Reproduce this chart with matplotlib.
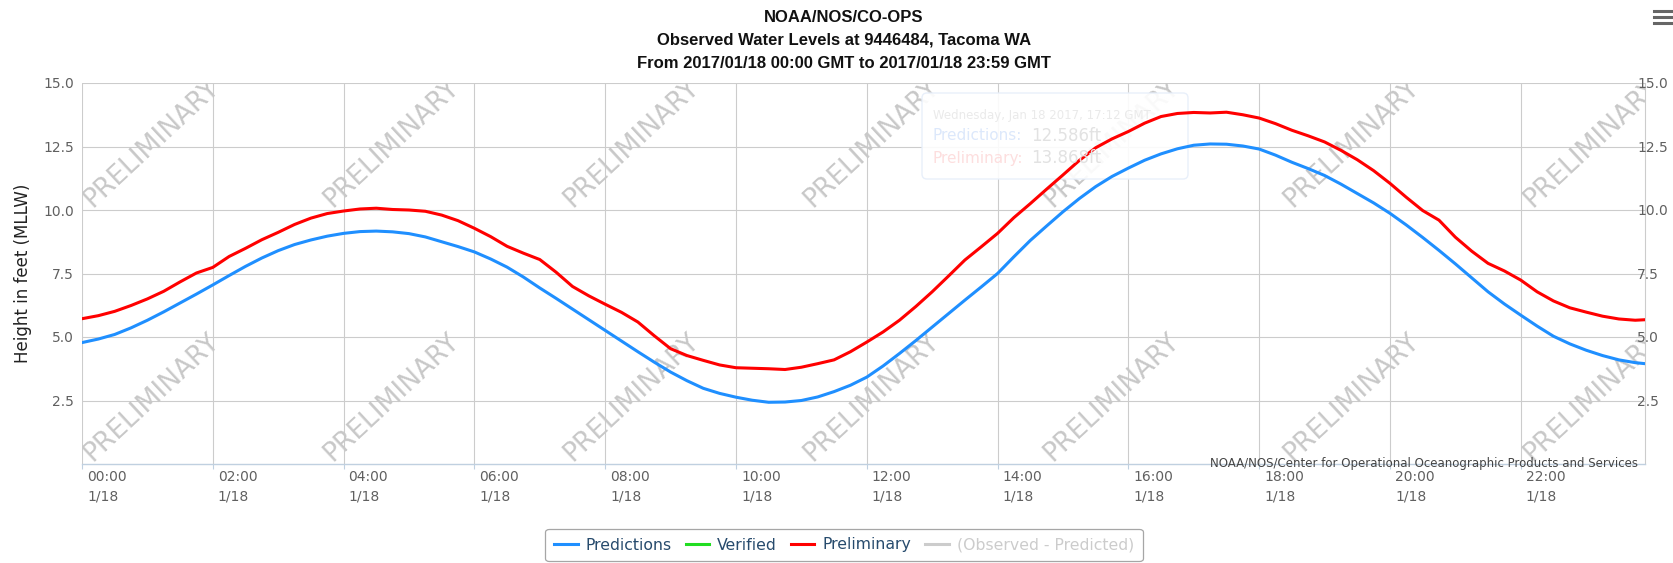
import numpy as np
import matplotlib.pyplot as plt
from matplotlib.lines import Line2D
from matplotlib.patches import FancyBboxPatch
from matplotlib.transforms import ScaledTranslation, IdentityTransform

# water levels read every quarter hour (last sample 23:54)
hours = list(np.arange(0, 24, 0.25)) + [23.9]
predictions = [4.78, 4.92, 5.10, 5.36, 5.66, 5.99, 6.34, 6.69, 7.05, 7.42,
               7.78, 8.11, 8.40, 8.64, 8.82, 8.97, 9.08, 9.15, 9.17, 9.14,
               9.07, 8.94, 8.75, 8.56, 8.35, 8.07, 7.75, 7.36, 6.93, 6.52,
               6.10, 5.68, 5.26, 4.84, 4.42, 4.01, 3.62, 3.28, 2.98, 2.78,
               2.63, 2.51, 2.43, 2.44, 2.50, 2.64, 2.85, 3.10, 3.42, 3.86,
               4.35, 4.86, 5.39, 5.92, 6.45, 6.97, 7.50, 8.16, 8.80, 9.37,
               9.93, 10.45, 10.92, 11.32, 11.65, 11.96, 12.21, 12.41, 12.55, 12.60,
               12.59, 12.52, 12.40, 12.16, 11.88, 11.63, 11.36, 11.02, 10.65, 10.28,
               9.87, 9.41, 8.92, 8.41, 7.88, 7.33, 6.78, 6.30, 5.86, 5.43,
               5.03, 4.73, 4.48, 4.27, 4.10, 3.99, 3.95]
preliminary = [5.72, 5.84, 6.01, 6.24, 6.50, 6.80, 7.17, 7.52, 7.74, 8.17,
               8.49, 8.83, 9.12, 9.43, 9.68, 9.86, 9.96, 10.04, 10.07, 10.02,
               10.00, 9.95, 9.80, 9.58, 9.28, 8.95, 8.57, 8.30, 8.05, 7.55,
               6.99, 6.62, 6.29, 5.97, 5.59, 5.05, 4.54, 4.27, 4.08, 3.90,
               3.79, 3.77, 3.75, 3.72, 3.81, 3.95, 4.10, 4.42, 4.80, 5.20,
               5.66, 6.20, 6.78, 7.40, 8.03, 8.55, 9.08, 9.70, 10.25, 10.82,
               11.38, 11.95, 12.45, 12.80, 13.09, 13.42, 13.68, 13.80, 13.84, 13.82,
               13.85, 13.75, 13.62, 13.40, 13.14, 12.92, 12.68, 12.35, 11.98, 11.55,
               11.05, 10.50, 9.98, 9.60, 8.93, 8.38, 7.90, 7.60, 7.24, 6.78,
               6.42, 6.15, 5.98, 5.82, 5.71, 5.66, 5.68]

tick_hours = [0, 2, 4, 6, 8, 10, 12, 14, 16, 18, 20, 22]
tick_labels = [f"{h:02d}:00\n1/18" for h in tick_hours]
y_ticks = [2.5, 5.0, 7.5, 10.0, 12.5, 15.0]

titles = ["NOAA/NOS/CO-OPS",
          "Observed Water Levels at 9446484, Tacoma WA",
          "From 2017/01/18 00:00 GMT to 2017/01/18 23:59 GMT"]

BLUE = '#1f8fff'
RED = '#ff0000'
GREEN = '#22dd22'
GRID = '#cccccc'
TICKC = '#606060'

W, H = 1673, 563
fig = plt.figure(figsize=(W / 100, H / 100), dpi=100)
ax = fig.add_axes([82 / W, 1 - 464 / H, (1645 - 82) / W, (464 - 83) / H])

ax.plot(hours, predictions, color=BLUE, lw=2.2, zorder=4, solid_capstyle='round')
ax.plot(hours, preliminary, color=RED, lw=2.2, zorder=5, solid_capstyle='round')

ax.set_xlim(0, 23.9)
ax.set_ylim(0, 15)
ax.set_yticks(y_ticks, [f"{v:.1f}" for v in y_ticks])
ax.set_xticks(tick_hours, tick_labels)
ax.grid(True, color=GRID, lw=0.8, zorder=0)
ax.set_axisbelow(True)

for s in ['top', 'left']:
    ax.spines[s].set_visible(False)
ax.spines['right'].set_color(GRID)
ax.spines['right'].set_linewidth(0.8)
ax.spines['bottom'].set_color('#c0d0e0')
ax.spines['bottom'].set_linewidth(1.0)

ax.tick_params(axis='y', length=0, pad=5.8, labelsize=10, labelcolor=TICKC)
ax.tick_params(axis='x', length=3.6, width=0.8, color='#c0d0e0', pad=1,
               labelsize=10, labelcolor=TICKC)
offset = ScaledTranslation(5 / 100, 0, fig.dpi_scale_trans)
for lab in ax.get_xticklabels():
    lab.set_ha('left')
    lab.set_linespacing(1.45)
    lab.set_transform(lab.get_transform() + offset)

ax2 = ax.twinx()
ax2.set_ylim(0, 15)
ax2.set_yticks(y_ticks, [f"{v:.1f}" for v in y_ticks])
ax2.tick_params(axis='y', length=0, pad=-5.8, labelsize=10, labelcolor=TICKC)
for s in ax2.spines.values():
    s.set_visible(False)

ax.set_ylabel("Height in feet (MLLW)", fontsize=12, color='#222222')
ax.yaxis.set_label_coords((32 - 82) / 1563, 0.5)

# PRELIMINARY watermark grid
for cx in [152, 392, 632, 872, 1112, 1352, 1592]:
    for cy in [143, 397]:
        ax.text((cx - 82) / 1563, (464 - cy) / 381, "PRELIMINARY",
                transform=ax.transAxes, rotation=43, fontsize=19,
                color='#c8c8c8', ha='center', va='center',
                rotation_mode='anchor', clip_on=True, zorder=2)

# faded tooltip
px = IdentityTransform()
tip = FancyBboxPatch((922, H - 179), 266, 86,
                     boxstyle="round,pad=0,rounding_size=5",
                     transform=px, facecolor='white', alpha=0.9,
                     edgecolor='#e6eefa', lw=1, zorder=3)
ax.add_artist(tip)
tip.set_clip_on(False)
fig.text(933, H - 115, "Wednesday, Jan 18 2017, 17:12 GMT", transform=px,
         fontsize=8.5, color='#eaeaea', va='center')
fig.text(933, H - 136, "Predictions:", transform=px, fontsize=11,
         color='#dce8fb', va='center')
fig.text(1031, H - 136, "12.586ft", transform=px, fontsize=12,
         color='#e2e2e2', va='center')
fig.text(933, H - 158, "Preliminary:", transform=px, fontsize=11,
         color='#fddede', va='center')
fig.text(1031, H - 158, "13.868ft", transform=px, fontsize=12,
         color='#e2e2e2', va='center')

# titles
for txt, y in zip(titles, [17, 40, 63]):
    fig.text(844 / W, 1 - y / H, txt, ha='center', va='center', fontsize=12,
             fontweight='bold', family='Liberation Sans', color='#111111')

fig.text(1638 / W, 1 - 464 / H,
         "NOAA/NOS/Center for Operational Oceanographic Products and Services",
         ha='right', va='center', fontsize=8.5, color='#444444', zorder=10)

# menu icon
for yy in [11, 17, 23]:
    fig.add_artist(Line2D([1654, 1672], [H - yy, H - yy], transform=px,
                          color='#666666', lw=2.2))

handles = [Line2D([], [], color=BLUE, lw=2.2),
           Line2D([], [], color=GREEN, lw=2.2),
           Line2D([], [], color=RED, lw=2.2),
           Line2D([], [], color='#cccccc', lw=2.2)]
names = ["Predictions", "Verified", "Preliminary", "(Observed - Predicted)"]
leg = fig.legend(handles, names, loc='center', bbox_to_anchor=(844 / W, 1 - 545 / H),
                 ncol=4, frameon=True, fancybox=True, fontsize=11.3,
                 handlelength=1.5, handletextpad=0.5, columnspacing=0.9,
                 borderpad=0.55)
leg.get_frame().set_edgecolor('#909090')
leg.get_frame().set_linewidth(0.9)
for t, c in zip(leg.get_texts(), ['#274b6d', '#274b6d', '#274b6d', '#cccccc']):
    t.set_color(c)

fig.savefig("out.png", dpi=100)
